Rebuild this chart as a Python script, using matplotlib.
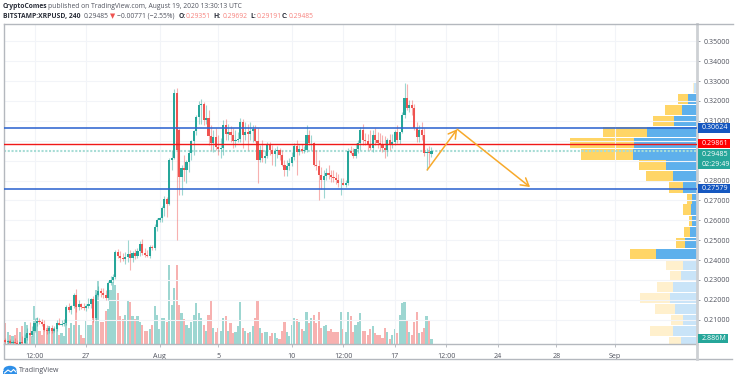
"""XRPUSD 4h TradingView snapshot, rebuilt with matplotlib."""
import matplotlib
matplotlib.use("Agg")
import matplotlib.dates as mdates
import matplotlib.pyplot as plt
import numpy as np
import pandas as pd
from matplotlib.patches import Ellipse, Polygon, Rectangle

# ── Data ──────────────────────────────────────────────────────
bar_times = pd.date_range("2020-07-21 12:00", periods=175, freq="4h")

opens = [
    .1998, .1988, .1993, .1983, .1988, .1983, .1978, .1988, .1983, .2008,
    .2033, .2023, .2043, .2083, .2093, .2088, .2078, .2048, .2043, .2058,
    .2043, .2053, .2083, .2073, .2078, .2083, .2164, .2149, .2169, .2224,
    .2164, .2179, .2164, .2159, .2169, .2179, .2204, .2108, .2224, .2244,
    .2234, .2224, .2209, .2285, .2300, .2315, .2440, .2420, .2410, .2405,
    .2415, .2430, .2410, .2435, .2420, .2445, .2481, .2435, .2425, .2420,
    .2466, .2461, .2566, .2601, .2611, .2662, .2707, .2682, .2905, .2915,
    .3240, .3055, .2820, .2865, .2855, .2895, .2940, .3000, .3050, .3120,
    .3180, .3185, .3105, .3115, .3025, .2990, .3020, .2970, .2960, .2965,
    .3080, .3035, .3045, .3030, .3000, .3005, .3010, .3095, .3030, .3045,
    .3035, .3050, .3060, .3000, .2905, .2955, .2915, .2925, .2980, .2955,
    .2935, .2950, .2955, .2930, .2880, .2855, .2875, .2890, .2920, .2975,
    .2945, .2960, .2950, .2955, .3030, .2990, .2990, .2880, .2875, .2830,
    .2805, .2825, .2840, .2830, .2820, .2815, .2805, .2790, .2790, .2775,
    .2785, .2950, .2940, .2925, .2960, .2990, .3055, .3005, .3000, .2985,
    .2965, .3030, .3005, .2990, .2980, .2965, .2955, .3005, .2980, .2995,
    .3045, .3005, .3045, .3130, .3215, .3165, .3180, .3165, .3065, .3020,
    .3055, .3030, .2940, .2945, .29351,
]
highs = [
    .2008, .1998, .2003, .1998, .2008, .1998, .1988, .2018, .2028, .2058,
    .2088, .2068, .2108, .2113, .2108, .2103, .2098, .2073, .2068, .2073,
    .2068, .2098, .2108, .2098, .2103, .2174, .2184, .2174, .2234, .2254,
    .2199, .2184, .2184, .2179, .2209, .2209, .2219, .2234, .2270, .2259,
    .2259, .2249, .2295, .2320, .2330, .2450, .2456, .2445, .2435, .2440,
    .2501, .2450, .2445, .2456, .2461, .2496, .2506, .2461, .2450, .2476,
    .2476, .2581, .2611, .2616, .2672, .2722, .2717, .2915, .2955, .3260,
    .3265, .3065, .2880, .2930, .2905, .2955, .3005, .3055, .3130, .3200,
    .3210, .3195, .3180, .3155, .3080, .3055, .3065, .3030, .3015, .3105,
    .3110, .3085, .3075, .3065, .3055, .3045, .3115, .3110, .3095, .3085,
    .3095, .3080, .3080, .3065, .2980, .3005, .2955, .2995, .2995, .2980,
    .2965, .2975, .2965, .2955, .2905, .2905, .2915, .2945, .2990, .3005,
    .2980, .2985, .2975, .3080, .3055, .3030, .2995, .2955, .2905, .2870,
    .2855, .2865, .2880, .2855, .2855, .2845, .2835, .2815, .2815, .2805,
    .2965, .2975, .2965, .2990, .3005, .3070, .3085, .3040, .3035, .3055,
    .3055, .3065, .3045, .3040, .3030, .3025, .3015, .3035, .3035, .3055,
    .3080, .3045, .3145, .3290, .3285, .3205, .3205, .3185, .3095, .3080,
    .3095, .3065, .2965, .2975, .29692,
]
lows = [
    .1983, .1978, .1978, .1973, .1973, .1973, .1973, .1978, .1978, .1998,
    .2023, .2018, .2038, .2068, .2078, .2068, .2043, .2028, .2033, .2033,
    .2038, .2043, .2073, .2068, .2068, .2073, .2139, .2129, .2159, .2139,
    .2149, .2154, .2149, .2144, .2159, .2159, .2088, .2098, .2219, .2214,
    .2209, .2199, .2199, .2275, .2290, .2305, .2410, .2390, .2395, .2380,
    .2390, .2350, .2390, .2405, .2410, .2420, .2425, .2415, .2415, .2410,
    .2450, .2450, .2546, .2591, .2591, .2621, .2616, .2677, .2855, .2910,
    .2501, .2727, .2727, .2800, .2790, .2845, .2905, .2930, .3030, .3085,
    .3085, .3080, .3085, .2980, .2955, .2945, .2955, .2930, .2915, .2930,
    .3005, .3005, .2995, .2965, .2970, .2995, .2995, .2965, .3005, .2955,
    .3005, .2995, .2995, .2785, .2895, .2895, .2890, .2915, .2930, .2880,
    .2875, .2915, .2905, .2875, .2825, .2825, .2855, .2875, .2905, .2830,
    .2930, .2940, .2940, .2945, .2980, .2955, .2875, .2855, .2702, .2755,
    .2712, .2805, .2810, .2795, .2795, .2780, .2765, .2727, .2775, .2765,
    .2775, .2935, .2915, .2915, .2940, .2955, .2980, .2980, .2955, .2955,
    .2945, .2980, .2965, .2955, .2945, .2915, .2925, .2955, .2965, .2980,
    .2990, .2985, .3040, .3115, .3155, .3145, .3130, .3055, .2995, .2995,
    .3005, .2925, .2855, .2880, .29191,
]
closes = [
    .1988, .1993, .1983, .1988, .1983, .1978, .1988, .1983, .2008, .2033,
    .2023, .2043, .2083, .2093, .2088, .2078, .2048, .2043, .2058, .2043,
    .2053, .2083, .2073, .2078, .2083, .2164, .2149, .2169, .2224, .2164,
    .2179, .2164, .2159, .2169, .2179, .2204, .2108, .2224, .2244, .2234,
    .2224, .2209, .2285, .2300, .2315, .2440, .2420, .2410, .2405, .2415,
    .2430, .2410, .2435, .2420, .2445, .2481, .2435, .2425, .2420, .2466,
    .2461, .2566, .2601, .2611, .2662, .2707, .2682, .2905, .2915, .3240,
    .2955, .2820, .2865, .2855, .2895, .2940, .3000, .3050, .3120, .3180,
    .3185, .3105, .3115, .3025, .2990, .3020, .2970, .2960, .2965, .3080,
    .3035, .3045, .3030, .3000, .3005, .3010, .3095, .3030, .3045, .3035,
    .3050, .3060, .3000, .2905, .2955, .2915, .2925, .2980, .2955, .2935,
    .2950, .2955, .2930, .2880, .2855, .2875, .2890, .2920, .2975, .2945,
    .2960, .2950, .2955, .3030, .2990, .2990, .2880, .2875, .2830, .2805,
    .2825, .2840, .2830, .2820, .2815, .2805, .2790, .2790, .2775, .2785,
    .2950, .2940, .2925, .2960, .2990, .3055, .3005, .3000, .2985, .2965,
    .3030, .3005, .2990, .2980, .2965, .2955, .3005, .2980, .2995, .3045,
    .3005, .3045, .3130, .3215, .3165, .3180, .3165, .3065, .3020, .3055,
    .3030, .2940, .2945, .2940, .29485,
]
volumes = [
    13.4, 8.0, 6.0, 4.7, 5.4, 10.1, 8.0, 11.4, 14.1, 12.1,
    6.7, 4.7, 24.8, 16.8, 8.7, 5.4, 11.4, 10.7, 11.4, 10.1,
    10.7, 13.4, 5.4, 6.7, 4.7, 14.7, 10.7, 13.4, 12.7, 25.5,
    12.1, 6.0, 3.4, 15.4, 12.1, 12.1, 20.8, 35.5, 42.2, 14.7,
    14.7, 22.1, 22.8, 35.5, 41.5, 38.9, 33.5, 18.1, 16.1, 19.4,
    28.8, 28.1, 18.1, 16.1, 18.1, 14.7, 12.1, 8.7, 8.7, 9.4,
    12.1, 24.8, 18.8, 9.4, 17.4, 16.8, 14.1, 52.9, 25.5, 37.5,
    52.9, 26.1, 20.1, 16.1, 12.7, 10.1, 14.7, 18.8, 26.8, 20.1,
    16.8, 12.1, 8.7, 18.8, 28.8, 10.1, 8.0, 10.1, 8.7, 16.8,
    18.1, 8.7, 13.4, 6.7, 8.0, 11.4, 27.5, 10.7, 8.7, 6.7,
    8.0, 11.4, 17.4, 28.8, 10.7, 6.7, 7.4, 8.0, 4.7, 6.7,
    6.7, 3.4, 2.7, 8.7, 14.1, 8.0, 4.7, 12.1, 17.4, 16.1,
    14.7, 9.4, 8.7, 20.8, 13.4, 16.8, 18.8, 13.4, 21.4, 10.1,
    11.4, 12.7, 8.7, 9.4, 7.4, 7.4, 7.4, 21.4, 9.4, 8.0,
    21.4, 18.1, 8.0, 12.1, 14.7, 20.1, 8.7, 8.7, 5.4, 9.4,
    11.4, 6.7, 6.0, 5.4, 3.4, 10.7, 7.4, 2.7, 5.4, 9.4,
    6.7, 18.8, 26.8, 27.5, 15.4, 8.0, 6.0, 14.7, 21.4, 6.7,
    8.0, 10.7, 18.1, 15.4, 2.886,
]

# Volume profile on the right: one row per price bin
profile_prices = [
    .3265, .3209, .3154, .3098, .3043, .2987, .2931, .2876, .2820, .2765, .2709, .2654,
    .2598, .2543, .2487, .2431, .2376, .2320, .2265, .2209, .2154, .2098, .2043, .1987,
]
profile_up = [
    2.7, 9.0, 15.3, 23.3, 49.7, 62.7, 64.0, 30.7, 24.0, 14.3, 4.7, 6.3,
    5.3, 7.0, 11.7, 41.0, 14.3, 16.3, 24.3, 27.3, 21.7, 13.7, 24.0, 16.3,
]
profile_down = [
    1.3, 10.3, 16.4, 21.0, 44.3, 64.6, 52.0, 27.0, 27.0, 14.0, 5.3, 7.4,
    3.0, 5.7, 9.0, 25.7, 16.4, 10.4, 15.4, 29.4, 20.3, 12.0, 23.3, 12.0,
]

price_ticks = [.21, .22, .23, .24, .25, .26, .27, .28, .29, .30, .31, .32, .33, .34, .35]
# .29 and .30 sit behind the price badges in the reference, so their labels stay empty
price_labels = ["0.21000", "0.22000", "0.23000", "0.24000", "0.25000", "0.26000", "0.27000",
                "0.28000", "", "", "0.31000", "0.32000", "0.33000", "0.34000", "0.35000"]
time_ticks = ["2020-07-23 12:00", "2020-07-27 00:00", "2020-08-01 00:00", "2020-08-05 00:00",
              "2020-08-10 00:00", "2020-08-13 12:00", "2020-08-17 00:00", "2020-08-20 12:00",
              "2020-08-24 00:00", "2020-08-28 00:00", "2020-09-01 00:00"]
time_labels = ["12:00", "27", "Aug", "5", "10", "12:00", "17", "12:00", "24", "28", "Sep"]

res_high, res_low, red_level, last_price = 0.30624, 0.27579, 0.29861, 0.29485

W, H = 736, 380
GREEN, RED = "#26A69A", "#EF5350"
FONT = ["Open Sans", "DejaVu Sans"]
plt.rcParams["font.family"] = FONT

# ── Axes ──────────────────────────────────────────────────────
LEFT, RIGHT, TOP, BOTTOM = 3.5, 697, 24, 343.5
fig = plt.figure(figsize=(W / 100, H / 100), dpi=100, facecolor="white")
rect = [LEFT / W, 1 - BOTTOM / H, (RIGHT - LEFT) / W, (BOTTOM - TOP) / H]

ax = fig.add_axes(rect)
ax.set_xlim(mdates.date2num(pd.Timestamp("2020-08-01")) + (LEFT - 159.5) / 14.7,
            mdates.date2num(pd.Timestamp("2020-08-01")) + (RIGHT - 159.5) / 14.7)
ax.set_ylim(.3708 - .000503 * BOTTOM, .3708 - .000503 * TOP)

ax_vol = ax.twinx()
ax_prof = ax.twiny()
ax.set_zorder(3)
ax_prof.set_zorder(2)
ax_vol.set_zorder(1)
ax.patch.set_visible(False)
ax_prof.patch.set_visible(False)

x = mdates.date2num(bar_times)
o, h, l, c = map(np.array, (opens, highs, lows, closes))
up = c >= o
colors = np.where(up, GREEN, RED)
bar_w = 4 / 24 * 0.86

# Volume pane
ax_vol.bar(x, volumes, width=bar_w, color=colors, alpha=0.45, linewidth=0)
ax_vol.set_ylim(0, 214)
ax_vol.axis("off")

# Volume profile, anchored on the right edge
prof_colors_up = ["#5EB0EC" if .2402 < p < .3235 else "#C9E4F8" for p in profile_prices]
prof_colors_dn = ["#FFD566" if .2402 < p < .3235 else "#FFF0CD" for p in profile_prices]
ax_prof.barh(profile_prices, profile_up, height=.0051, color=prof_colors_up, linewidth=0)
ax_prof.barh(profile_prices, profile_down, left=profile_up, height=.0051,
             color=prof_colors_dn, linewidth=0)
ax_prof.set_xlim(RIGHT - LEFT, 0)
ax_prof.axis("off")

# Candles
ax.vlines(x, l, h, colors=colors, linewidth=0.8, alpha=0.45, zorder=2)
ax.bar(x, np.abs(c - o), bottom=np.minimum(o, c), width=bar_w, color=colors,
       linewidth=0, zorder=3)

# Levels
ax.axhline(res_high, color="#2F66D0", linewidth=1.15, zorder=5)
ax.axhline(res_low, color="#2F66D0", linewidth=1.15, zorder=5)
ax.axhline(red_level, color="#F01818", linewidth=1.0, zorder=5)
ax.axhline(last_price, color="#A8DDD6", linewidth=1.5, linestyle=(0, (1, 0.8)), zorder=1)

# Orange forecast arrows
t0 = mdates.date2num(pd.Timestamp("2020-08-19 05:00"))
t1 = mdates.date2num(pd.Timestamp("2020-08-21 06:00"))
t2 = mdates.date2num(pd.Timestamp("2020-08-26 05:00"))
arrow = dict(arrowstyle="->,head_length=0.55,head_width=0.32", color="#F7A92B", lw=1.1,
             shrinkA=0, shrinkB=0)
ax.annotate("", xy=(t1, .3058), xytext=(t0, .2853), arrowprops=arrow, zorder=6)
ax.annotate("", xy=(t2, .2767), xytext=(t1, .3058), arrowprops=arrow, zorder=6)

# Grid and ticks
ax.set_yticks(price_ticks)
ax.set_yticklabels(price_labels)
ax.yaxis.tick_right()
ax.set_xticks(mdates.date2num(pd.to_datetime(time_ticks)))
ax.set_xticklabels(time_labels)
ax.grid(True, color="#F2F4F8", linewidth=0.8, zorder=0)
ax.set_axisbelow(True)
ax.tick_params(axis="y", length=2.5, width=0.6, color="#8A8E96", labelcolor="#50535E",
               labelsize=5.1, pad=2)
ax.tick_params(axis="x", length=2, width=0.6, color="#B0B3BA", labelcolor="#50535E",
               labelsize=5.1, pad=4.5)
for side, spine in ax.spines.items():
    spine.set_edgecolor("#B4B8BE")
    spine.set_linewidth(1.0)
ax.spines["right"].set_linewidth(2.0)
ax.spines["right"].set_edgecolor("#CDD0D4")

# ── Overlay in pixels: frame, price badges, header, logo ──────
ov = fig.add_axes([0, 0, 1, 1], zorder=10)
ov.set_xlim(0, W)
ov.set_ylim(H, 0)
ov.axis("off")
ov.plot([RIGHT, 733], [TOP, TOP], color="#B4B8BE", linewidth=1.0)
ov.plot([LEFT, LEFT, 732], [BOTTOM, 359.3, 359.3], color="#B4B8BE", linewidth=1.0)
ov.plot([RIGHT, RIGHT], [BOTTOM, 359.3], color="#CDD0D4", linewidth=2.0)


def badge(text, y0, y1, color, right=730):
    ov.add_patch(Rectangle((698, y0), right - 698, y1 - y0, color=color, linewidth=0))
    ov.text(702, (y0 + y1) / 2, text, color="white", fontsize=5.1, va="center", ha="left")


badge("0.30624", 123.3, 132.6, "#1557C0")
badge("0.29861", 138.7, 147.9, "#FF0000")
badge("0.29485", 149.3, 159.2, GREEN)
badge("02:29:49", 159.2, 168.8, GREEN)
badge("0.27579", 184, 193, "#1557C0")
badge("2.886M", 334.3, 343.3, GREEN, right=728)

DARK, MUTED, VAL = "#2A2E39", "#50535E", "#F7837F"
HEAD = 4.9


def head(x0, y, text, color, weight="normal"):
    ov.text(x0, y, text, color=color, fontsize=HEAD, fontweight=weight, va="center", ha="left")


head(3, 6.8, "CryptoComes", DARK, "bold")
head(48, 6.8, "published on TradingView.com, August 19, 2020 13:30:13 UTC", MUTED)
head(3, 16.2, "BITSTAMP:XRPUSD, 240", DARK, "bold")
head(83.3, 16.2, "0.29485", MUTED)
head(110, 16.2, "▼", RED)
head(117.3, 16.2, "\u22120.00771 (\u22122.55%)", MUTED)
head(178.3, 16.2, "O:", DARK, "bold")
head(186, 16.2, "0.29351", VAL)
head(213.3, 16.2, "H:", DARK, "bold")
head(222.7, 16.2, "0.29692", VAL)
head(250.7, 16.2, "L:", DARK, "bold")
head(257, 16.2, "0.29191", VAL)
head(281.7, 16.2, "C:", DARK, "bold")
head(289, 16.2, "0.29485", VAL)

# TradingView logo: small blue cloud with a white zigzag
logo = "#2E8FE8"
ov.add_patch(Ellipse((10, 369.8), 13, 8, color=logo, linewidth=0))
ov.add_patch(Polygon([[3, 374], [17, 374], [17, 371], [3, 371]], color=logo, linewidth=0))
ov.plot([4.5, 8, 11, 13.5, 16], [373, 370, 372, 369.5, 372], color="white", linewidth=0.8)
ov.text(19, 370, "TradingView", color=MUTED, fontsize=5.0, va="center", ha="left")

fig.savefig("out.png", dpi=100)
